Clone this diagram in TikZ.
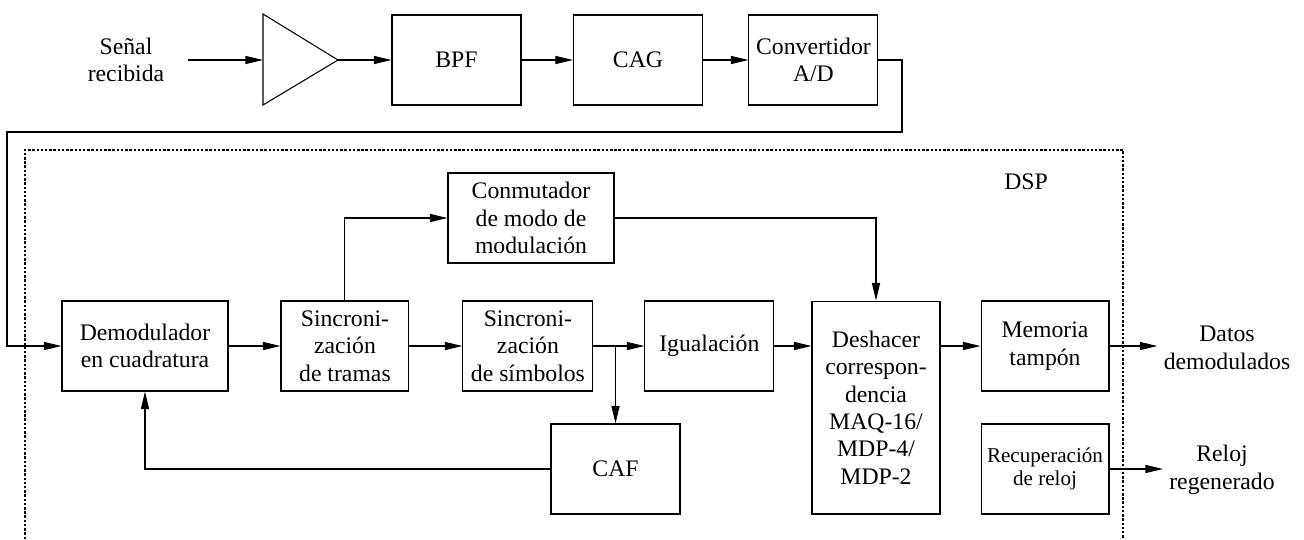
\documentclass[tikz,border=0pt]{standalone}
\usepackage{fontspec}
\setmainfont{Liberation Serif}
\usetikzlibrary{arrows.meta, positioning}

\begin{document}
\begin{tikzpicture}[x=0.02cm, y=-0.02cm, node distance=3.63cm, line width=0.6pt,
    every node/.style={font=\fontsize{13.5}{15.6}\selectfont},
    blk/.style={draw, align=center, minimum width=2.58cm, minimum height=1.8cm, inner sep=1pt},
    wide/.style={minimum width=3.32cm},
    sig/.style={-{Triangle[length=10pt,width=4.6pt]}},
    dsp/.style={line width=1.2pt, dash pattern=on 1.4pt off 1pt}]

    \useasboundingbox (0,0) rectangle (1304,539);

    % front end (analog)
    \node[align=center] (senal) at (126,60) {Señal\\recibida};
    \coordinate (sigin) at (188,60);
    \coordinate (ampin) at (263,60);
    \coordinate (ampout) at (338,60);
    \draw (263,14) -- (ampout) -- (263,105) -- cycle; % amplifier
    \node[blk] (bpf) at (456.5,60) {BPF};
    \node[blk, right of=bpf] (cag) {CAG};
    \node[blk, right of=cag, node distance=3.51cm] (adc) {Convertidor\\A/D};

    % DSP frame
    \draw[dsp] (25,539) -- (25,150) -- (1123,150) -- (1123,539);
    \node (dsplbl) at (1026,182) {DSP};

    % DSP blocks
    \node[blk, wide] (demod) at (145,346) {Demodulador\\en cuadratura};
    \node[blk, right of=demod, node distance=4cm, minimum width=2.56cm] (sinct) {Sincroni-\\zación\\de tramas};
    \node[blk, right of=sinct, node distance=3.66cm, minimum width=2.6cm] (sincs) {Sincroni-\\zación\\de símbolos};
    \node[blk, right of=sincs] (igual) {Igualación};
    \node[blk, minimum width=2.56cm, minimum height=4.26cm] (desh) at (876,407.5) {Deshacer\\correspon-\\dencia\\MAQ-16/\\MDP-4/\\MDP-2};
    \node[blk, minimum width=2.56cm] (mem) at (1045,346) {Memoria\\tampón};
    \node[blk, minimum width=2.56cm, below of=mem, node distance=2.46cm, font=\fontsize{12}{13.5}\selectfont] (rec) {Recuperación\\de reloj};
    \node[blk, wide] (conm) at (531,218) {Conmutador\\de modo de\\modulación};
    \node[blk] (caf) at (615.5,469) {CAF};

    % outputs
    \node[align=center] (datos) at (1227,348) {Datos\\demodulados};
    \node[align=center] (reloj) at (1222,470) {Reloj\\regenerado};

    % connections
    \coordinate (ret1) at (902,132);
    \coordinate (ret2) at (7,132);
    \draw[sig] (sigin) -- (ampin);
    \draw[sig] (ampout) -- (bpf.west);
    \draw[sig] (bpf) -- (cag);
    \draw[sig] (cag) -- (adc);
    \draw[sig] (adc.east) -| (ret1) -- (ret2) |- (demod.west);
    \draw[sig] (demod) -- (sinct);
    \draw[sig] (sinct) -- (sincs);
    \draw[sig] (sincs) -- (igual);
    \draw[sig] (caf.north |- sincs.east) -- (caf.north);
    \draw[sig] (igual.east) -- (desh.west |- igual.east);
    \draw[sig] (sinct.north) |- (conm.west);
    \draw[sig] (conm.east) -| (desh.north);
    \draw[sig] (caf.west) -| (demod.south);
    \draw[sig] (desh.east |- mem.west) -- (mem.west);
    \draw[sig] (mem.east) -- (mem.east -| datos.west);
    \draw[sig] (rec.east) -- (rec.east -| reloj.west);
\end{tikzpicture}
\end{document}
